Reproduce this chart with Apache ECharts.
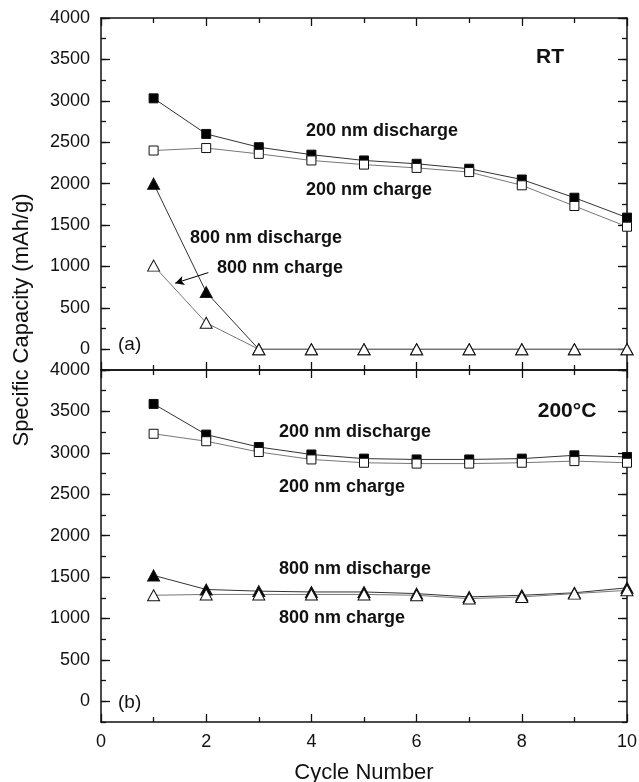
<!DOCTYPE html>
<html>
<head>
<meta charset="utf-8">
<script src="https://cdn.jsdelivr.net/npm/echarts@6/dist/echarts.min.js"></script>
<style>
  html, body { margin: 0; padding: 0; background: #fff; }
  #chart { width: 639px; height: 782px; }
</style>
</head>
<body>
<div id="chart"></div>
<script>
/* cycle numbers */
var cycles = [1, 2, 3, 4, 5, 6, 7, 8, 9, 10];

/* (a) RT */
var rtDis200 = [3030, 2600, 2440, 2350, 2280, 2240, 2180, 2050, 1830, 1590];
var rtChg200 = [2400, 2430, 2360, 2280, 2230, 2190, 2140, 1980, 1730, 1480];
var rtDis800 = [2000, 690, 0, 0, 0, 0, 0, 0, 0, 0];
var rtChg800 = [1010, 320, 0, 0, 0, 0, 0, 0, 0, 0];

/* (b) 200°C */
var htDis200 = [3590, 3220, 3070, 2980, 2930, 2920, 2920, 2930, 2970, 2950];
var htChg200 = [3230, 3140, 3010, 2920, 2880, 2870, 2870, 2880, 2900, 2880];
var htDis800 = [1520, 1350, 1330, 1320, 1320, 1300, 1260, 1280, 1310, 1370];
var htChg800 = [1280, 1290, 1290, 1290, 1290, 1280, 1240, 1260, 1300, 1340];

/* y tick labels (major ticks) */
var yMajorTicks = [0, 500, 1000, 1500, 2000, 2500, 3000, 3500, 4000];

var font = '"Liberation Sans", Arial, Helvetica, sans-serif';
var ink = '#111';

function pairs(vals) {
    return cycles.map(function (c, i) { return [c, vals[i]]; });
}

// x 轴（每个面板上下各一条）
function xAxisFor(grid, pos, showLabel) {
    return {
        type: 'value', gridIndex: grid, position: pos,
        min: 0, max: 10, interval: 2,
        axisLine: { show: true, onZero: false, lineStyle: { color: ink, width: 1.5 } },
        axisTick: { show: true, inside: true, length: 8, lineStyle: { color: ink, width: 1.3 } },
        minorTick: { show: true, splitNumber: 2, length: 5, lineStyle: { color: ink, width: 1.3 } },
        axisLabel: { show: showLabel, color: ink, fontFamily: font, fontSize: 18, margin: 11 },
        splitLine: { show: false },
        name: showLabel ? 'Cycle Number' : '',
        nameLocation: 'middle', nameGap: 40,
        nameTextStyle: { color: ink, fontFamily: font, fontSize: 22 }
    };
}

// y 轴：短刻度+标签 / 长刻度
function yAxisFor(grid, pos, major, showLabel) {
    var ax = {
        type: 'value', gridIndex: grid, position: pos,
        min: -250, max: 4000, interval: 250,
        axisLine: { show: !major, onZero: false, lineStyle: { color: ink, width: 1.5 } },
        axisTick: { show: true, inside: true, length: major ? 9 : 5, lineStyle: { color: ink, width: 1.3 } },
        axisLabel: { show: false },
        splitLine: { show: false }
    };
    if (major) {
        ax.axisTick.customValues = yMajorTicks;
    }
    if (showLabel) {
        ax.axisLabel = {
            show: true, color: ink, fontFamily: font, fontSize: 18, margin: 11,
            formatter: function (v) { return v % 500 === 0 && v >= 0 ? String(v) : ''; }
        };
    }
    return ax;
}

function lineSeries(name, data, xi, yi, symbol, filled, lineColor) {
    return {
        name: name, type: 'line', xAxisIndex: xi, yAxisIndex: yi,
        data: pairs(data),
        symbol: symbol,
        symbolSize: symbol === 'triangle' ? [12, 11] : 9,
        showAllSymbol: true,
        lineStyle: { color: lineColor, width: 1 },
        itemStyle: { color: filled ? '#000' : '#fff', borderColor: '#111', borderWidth: 1 },
        emphasis: { disabled: true }
    };
}

function txt(str, x, y, size, bold, align) {
    return {
        type: 'text', x: x, y: y,
        style: {
            text: str, fill: ink, align: align || 'left', verticalAlign: 'middle',
            font: (bold ? 'bold ' : '') + size + 'px ' + font
        }
    };
}

var chart = echarts.init(document.getElementById('chart'));

var chg800Top = lineSeries('800 nm charge RT', rtChg800, 0, 0, 'triangle', false, '#777');
chg800Top.markLine = {
    silent: true,
    symbol: ['none', 'arrow'],
    symbolSize: [7, 9],
    label: { show: false },
    lineStyle: { color: '#000', width: 1, type: 'solid' },
    data: [[{ coord: [2.04, 926] }, { coord: [1.41, 798] }]]
};

var option = {
    animation: false,
    backgroundColor: '#fff',
    grid: [
        { left: 101, top: 18, width: 526, height: 352, outerBoundsMode: 'none' },
        { left: 101, top: 370, width: 526, height: 352, outerBoundsMode: 'none' }
    ],
    xAxis: [
        xAxisFor(0, 'bottom', false),
        xAxisFor(0, 'top', false),
        xAxisFor(1, 'bottom', true),
        xAxisFor(1, 'top', false)
    ],
    yAxis: [
        yAxisFor(0, 'left', false, true),
        yAxisFor(0, 'left', true, false),
        yAxisFor(0, 'right', false, false),
        yAxisFor(0, 'right', true, false),
        yAxisFor(1, 'left', false, true),
        yAxisFor(1, 'left', true, false),
        yAxisFor(1, 'right', false, false),
        yAxisFor(1, 'right', true, false)
    ],
    series: [
        lineSeries('800 nm discharge RT', rtDis800, 0, 0, 'triangle', true, '#333'),
        chg800Top,
        lineSeries('200 nm discharge RT', rtDis200, 0, 0, 'rect', true, '#333'),
        lineSeries('200 nm charge RT', rtChg200, 0, 0, 'rect', false, '#777'),
        lineSeries('800 nm discharge 200C', htDis800, 2, 4, 'triangle', true, '#333'),
        lineSeries('800 nm charge 200C', htChg800, 2, 4, 'triangle', false, '#777'),
        lineSeries('200 nm discharge 200C', htDis200, 2, 4, 'rect', true, '#333'),
        lineSeries('200 nm charge 200C', htChg200, 2, 4, 'rect', false, '#777')
    ],
    graphic: [
        {
            type: 'text', x: 22, y: 320, rotation: Math.PI / 2,
            style: {
                text: 'Specific Capacity (mAh/g)', fill: ink, align: 'center', verticalAlign: 'middle',
                font: '22px ' + font
            }
        },
        txt('RT', 550, 57, 21, true, 'center'),
        txt('200 nm discharge', 306, 131, 18, true),
        txt('200 nm charge', 306, 190, 18, true),
        txt('800 nm discharge', 190, 238, 18, true),
        txt('800 nm charge', 217, 268, 18, true),
        txt('(a)', 118, 345, 19, false),
        txt('200°C', 567, 411, 21, true, 'center'),
        txt('200 nm discharge', 279, 432, 18, true),
        txt('200 nm charge', 279, 487, 18, true),
        txt('800 nm discharge', 279, 569, 18, true),
        txt('800 nm charge', 279, 618, 18, true),
        txt('(b)', 118, 703, 19, false)
    ]
};

chart.setOption(option);
</script>
</body>
</html>
